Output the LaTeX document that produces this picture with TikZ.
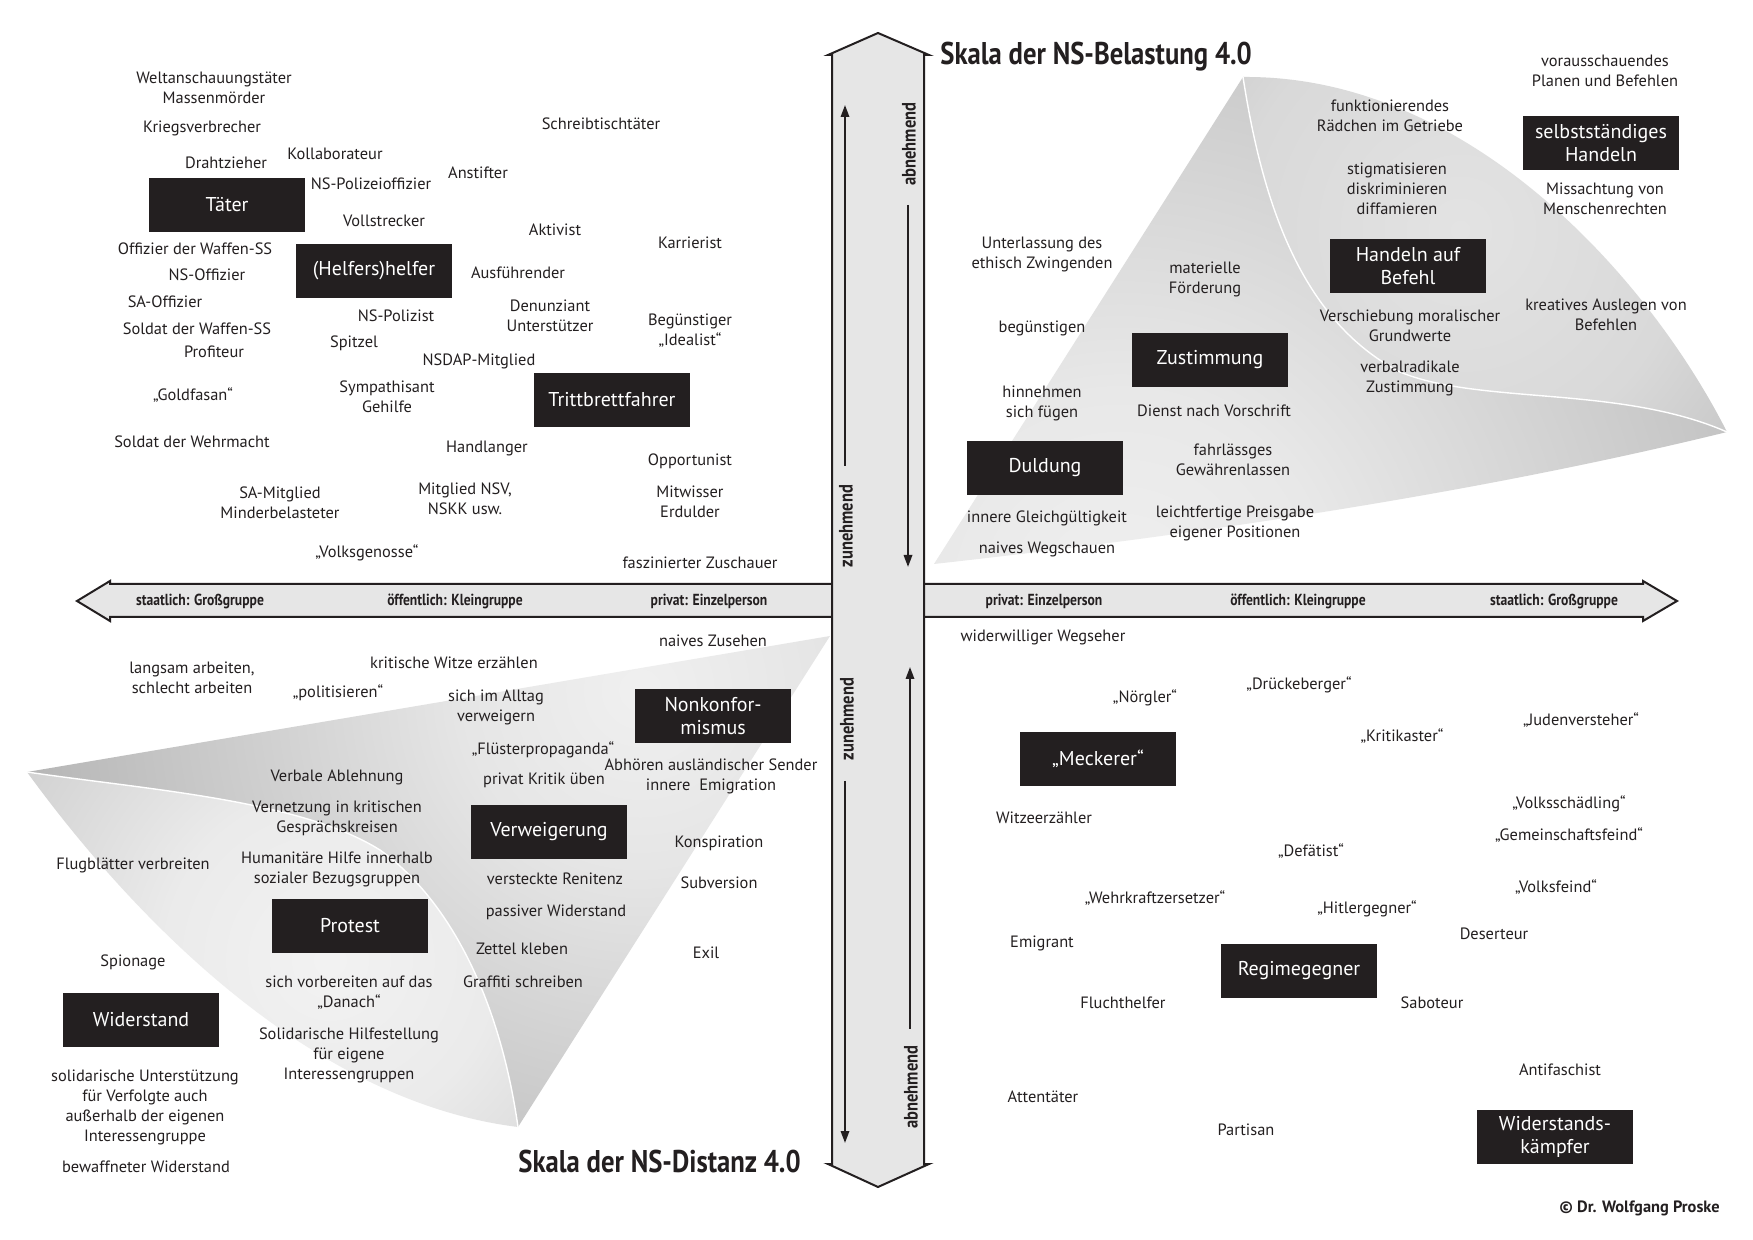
\documentclass[tikz,border=0pt]{standalone}
\usepackage{fontspec}
\setmainfont{PT Sans}
\newfontfamily\cnd[FakeStretch=0.85]{PT Sans}
\usetikzlibrary{arrows.meta}
\definecolor{ink}{HTML}{231F20}
\definecolor{barfill}{HTML}{E6E6E6}
\pgfdeclareradialshading{urfront}{\pgfpoint{0bp}{0bp}}{color(0bp)=(black!6); color(5bp)=(black!9); color(20bp)=(black!30); color(30bp)=(black!38); color(50bp)=(black!40)}
\pgfdeclareradialshading{urcurl}{\pgfpoint{0bp}{0bp}}{color(0bp)=(black!11); color(8bp)=(black!15); color(22bp)=(black!36); color(50bp)=(black!42)}
\pgfdeclareradialshading{llfront}{\pgfpoint{0bp}{0bp}}{color(0bp)=(black!6); color(5bp)=(black!10); color(18bp)=(black!30); color(28bp)=(black!42); color(50bp)=(black!45)}
\pgfdeclareradialshading{llcurl}{\pgfpoint{0bp}{0bp}}{color(0bp)=(black!5); color(6bp)=(black!8); color(20bp)=(black!28); color(28bp)=(black!36); color(50bp)=(black!38)}
\begin{document}
\begin{tikzpicture}[x=0.5pt,y=-0.5pt,
  lbl/.style={font=\fontsize{8.2}{10}\selectfont, text=ink, align=center, inner sep=0pt},
  cat/.style={fill=ink, text=white, font=\fontsize{10}{11.5}\selectfont, minimum width=78pt, minimum height=27pt, inner sep=0pt, align=center},
  axlbl/.style={font=\cnd\bfseries\fontsize{8}{9}\selectfont, text=ink, inner sep=0pt, anchor=base},
  vlbl/.style={font=\cnd\bfseries\fontsize{9.7}{11}\selectfont, text=ink, inner sep=0pt, rotate=90},
  ttl/.style={font=\cnd\bfseries\fontsize{15.7}{18}\selectfont, text=ink, inner sep=0pt, anchor=base west},
  inarrow/.style={draw=ink, line width=1pt, -{Triangle[length=6pt,width=4.2pt]}},
  barline/.style={draw=ink, line width=1pt, fill=barfill, line join=miter},
]
\useasboundingbox (0,0) rectangle (1753,1240);
\fill[white] (0,0) rectangle (1753,1240);

% ---------- upper right sail ----------
\coordinate (A) at (1243,77);
\coordinate (B) at (934,564);
\coordinate (C) at (1727,432);
\coordinate (Ai) at (1400,372);
\begin{scope}
  \clip (A) -- (B) .. controls (1150,540) and (1450,500) .. (C)
        .. controls (1620,385) and (1480,405) .. (Ai)
        .. controls (1300,320) and (1262,200) .. (A) -- cycle;
  \shade[shading=urfront] (1120,600) circle (1040);
\end{scope}
\begin{scope}
  \clip (A) .. controls (1470,75) and (1650,280) .. (C)
        .. controls (1620,385) and (1480,405) .. (Ai)
        .. controls (1300,320) and (1262,200) .. (A) -- cycle;
  \shade[shading=urcurl] (1460,230) circle (700);
\end{scope}
\draw[white, line width=0.7pt] (A) .. controls (1262,200) and (1300,320) .. (Ai)
      .. controls (1480,405) and (1620,385) .. (C);

% ---------- lower left sail ----------
\coordinate (P) at (830,636);
\coordinate (L) at (27,772);
\coordinate (Q) at (518,1127);
\coordinate (Li) at (380,850);
\begin{scope}
  \clip (L) -- (P) -- (Q) .. controls (500,1000) and (450,900) .. (Li)
        .. controls (300,800) and (150,790) .. (L) -- cycle;
  \shade[shading=llfront] (640,690) circle (900);
\end{scope}
\begin{scope}
  \clip (L) .. controls (120,900) and (300,1100) .. (Q)
        .. controls (500,1000) and (450,900) .. (Li)
        .. controls (300,800) and (150,790) .. (L) -- cycle;
  \shade[shading=llcurl] (330,960) circle (700);
\end{scope}
\draw[white, line width=0.7pt] (L) .. controls (150,790) and (300,800) .. (Li)
      .. controls (450,900) and (500,1000) .. (Q);

% ---------- axes ----------
\draw[barline] (110,584) -- (1643,584) -- (1643,581) -- (1677,601) -- (1643,621)
   -- (1643,617) -- (110,617) -- (110,621) -- (77,601) -- (110,581) -- cycle;
\draw[barline] (832,1164) -- (832,55) -- (828,55) -- (878,33) -- (929,55) -- (924,55)
   -- (924,1164) -- (929,1164) -- (878,1187) -- (828,1164) -- cycle;

\coordinate (u1s) at (845,466); \coordinate (u1e) at (845,105);
\coordinate (d1s) at (908,205); \coordinate (d1e) at (908,567);
\coordinate (d2s) at (845,781); \coordinate (d2e) at (845,1143);
\coordinate (u2s) at (910,1029); \coordinate (u2e) at (910,667);
\draw[inarrow] (u1s) -- (u1e);
\draw[inarrow] (d1s) -- (d1e);
\draw[inarrow] (d2s) -- (d2e);
\draw[inarrow] (u2s) -- (u2e);
\node[vlbl] (v1) at (846,526) {zunehmend};
\node[vlbl] (v2) at (909,144) {abnehmend};
\node[vlbl] (v3) at (847,719) {zunehmend};
\node[vlbl] (v4) at (911,1087) {abnehmend};

\node[axlbl] (h1) at (200,606) {staatlich: Großgruppe};
\node[axlbl] (h2) at (455,606) {öffentlich: Kleingruppe};
\node[axlbl] (h3) at (709,606) {privat: Einzelperson};
\node[axlbl] (h4) at (1044,606) {privat: Einzelperson};
\node[axlbl] (h5) at (1298,606) {öffentlich: Kleingruppe};
\node[axlbl] (h6) at (1554,606) {staatlich: Großgruppe};

\node[ttl] (title1) at (940,65) {Skala der NS-Belastung 4.0};
\node[ttl] (title2) at (518,1172) {Skala der NS-Distanz 4.0};
\node[font=\bfseries\fontsize{8.2}{9}\selectfont, text=ink, inner sep=0pt, anchor=base east] (copy) at (1720,1212) {© Dr. Wolfgang Proske};

% ---------- upper left ----------
\node[lbl] (t1) at (214,88) {Weltanschauungstäter\\Massenmörder};
\node[lbl] (t2) at (202,128) {Kriegsverbrecher};
\node[lbl] (t3) at (226,163) {Drahtzieher};
\node[lbl] (t4) at (335,154) {Kollaborateur};
\node[lbl] (t5) at (371,184) {NS-Polizeioffizier};
\node[lbl] (t6) at (384,221) {Vollstrecker};
\node[lbl] (t7) at (195,249) {Offizier der Waffen-SS};
\node[lbl] (t8) at (207,275) {NS-Offizier};
\node[lbl] (t9) at (165,302) {SA-Offizier};
\node[lbl] (t10) at (197,329) {Soldat der Waffen-SS};
\node[lbl] (t11) at (214,352) {Profiteur};
\node[lbl] (t12) at (193,395) {„Goldfasan“};
\node[lbl] (t13) at (192,442) {Soldat der Wehrmacht};
\node[lbl] (t14) at (280,503) {SA-Mitglied\\Minderbelasteter};
\node[lbl] (t15) at (601,124) {Schreibtischtäter};
\node[lbl] (t16) at (478,173) {Anstifter};
\node[lbl] (t17) at (555,230) {Aktivist};
\node[lbl] (t18) at (690,243) {Karrierist};
\node[lbl] (t19) at (518,273) {Ausführender};
\node[lbl] (t20) at (396,316) {NS-Polizist};
\node[lbl] (t21) at (550,316) {Denunziant\\Unterstützer};
\node[lbl] (t22) at (690,331) {Begünstiger\\„Idealist“};
\node[lbl] (t23) at (354,343) {Spitzel};
\node[lbl] (t24) at (479,361) {NSDAP-Mitglied};
\node[lbl] (t25) at (387,397) {Sympathisant\\Gehilfe};
\node[lbl] (t26) at (487,449) {Handlanger};
\node[lbl] (t27) at (690,461) {Opportunist};
\node[lbl] (t28) at (465,499) {Mitglied NSV,\\NSKK usw.};
\node[lbl] (t29) at (690,502) {Mitwisser\\Erdulder};
\node[lbl] (t30) at (367,553) {„Volksgenosse“};
\node[lbl] (t31) at (700,563) {faszinierter Zuschauer};
\node[cat] (bTaeter) at (227,205) {Täter};
\node[cat] (bHelfer) at (374,271) {(Helfers)helfer};
\node[cat] (bTritt) at (612,400) {Trittbrettfahrer};

% ---------- upper right ----------
\node[lbl] (r1) at (1042,255) {Unterlassung des\\ethisch Zwingenden};
\node[lbl] (r2) at (1205,279) {materielle\\Förderung};
\node[lbl] (r3) at (1605,71) {vorausschauendes\\Planen und Befehlen};
\node[lbl] (r4) at (1390,116) {funktionierendes\\Rädchen im Getriebe};
\node[lbl] (r5) at (1397,189) {stigmatisieren\\diskriminieren\\diffamieren};
\node[lbl] (r6) at (1605,199) {Missachtung von\\Menschenrechten};
\node[lbl] (r7) at (1410,326) {Verschiebung moralischer\\Grundwerte};
\node[lbl] (r8) at (1410,378) {verbalradikale\\Zustimmung};
\node[lbl] (r9) at (1606,315) {kreatives Auslegen von\\Befehlen};
\node[lbl] (r10) at (1042,328) {begünstigen};
\node[lbl] (r11) at (1042,403) {hinnehmen\\sich fügen};
\node[lbl] (r12) at (1214,411) {Dienst nach Vorschrift};
\node[lbl] (r13) at (1233,460) {fahrlässges\\Gewährenlassen};
\node[lbl] (r14) at (1047,518) {innere Gleichgültigkeit};
\node[lbl] (r15) at (1047,549) {naives Wegschauen};
\node[lbl] (r16) at (1235,523) {leichtfertige Preisgabe\\eigener Positionen};
\node[cat] (bSelbst) at (1601,143) {selbstständiges\\Handeln};
\node[cat] (bBefehl) at (1408,266) {Handeln auf\\Befehl};
\node[cat] (bZust) at (1210,360) {Zustimmung};
\node[cat] (bDuld) at (1045,468) {Duldung};

% ---------- lower left ----------
\node[lbl] (l1) at (713,641) {naives Zusehen};
\node[lbl] (l2) at (454,663) {kritische Witze erzählen};
\node[lbl] (l3) at (496,707) {sich im Alltag\\verweigern};
\node[lbl] (l4) at (543,750) {„Flüsterpropaganda“};
\node[lbl] (l5) at (544,780) {privat Kritik üben};
\node[lbl] (l6) at (711,776) {Abhören ausländischer Sender\\innere\ \ Emigration};
\node[lbl] (l7) at (719,843) {Konspiration};
\node[lbl] (l8) at (555,879) {versteckte Renitenz};
\node[lbl] (l9) at (719,883) {Subversion};
\node[lbl] (l10) at (556,912) {passiver Widerstand};
\node[lbl] (l11) at (522,949) {Zettel kleben};
\node[lbl] (l12) at (706,953) {Exil};
\node[lbl] (l13) at (523,982) {Graffiti schreiben};
\node[lbl] (l14) at (192,678) {langsam arbeiten,\\schlecht arbeiten};
\node[lbl] (l15) at (338,693) {„politisieren“};
\node[lbl] (l16) at (337,777) {Verbale Ablehnung};
\node[lbl] (l17) at (337,818) {Vernetzung in kritischen\\Gesprächskreisen};
\node[lbl] (l18) at (337,869) {Humanitäre Hilfe innerhalb\\sozialer Bezugsgruppen};
\node[lbl] (l19) at (133,865) {Flugblätter verbreiten};
\node[lbl] (l20) at (133,962) {Spionage};
\node[lbl] (l21) at (349,993) {sich vorbereiten auf das\\„Danach“};
\node[lbl] (l22) at (349,1055) {Solidarische Hilfestellung\\für eigene\\Interessengruppen};
\node[lbl] (l23) at (145,1107) {solidarische Unterstützung\\für Verfolgte auch\\außerhalb der eigenen\\Interessengruppe};
\node[lbl] (l24) at (146,1167) {bewaffneter Widerstand};
\node[cat] (bNonk) at (713,716) {Nonkonfor-\\mismus};
\node[cat] (bVerw) at (549,832) {Verweigerung};
\node[cat] (bProt) at (350,926) {Protest};
\node[cat] (bWid) at (141,1020) {Widerstand};

% ---------- lower right ----------
\node[lbl] (s1) at (1043,637) {widerwilliger Wegseher};
\node[lbl] (s2) at (1145,698) {„Nörgler“};
\node[lbl] (s3) at (1299,685) {„Drückeberger“};
\node[lbl] (s4) at (1044,818) {Witzeerzähler};
\node[lbl] (s5) at (1311,851) {„Defätist“};
\node[lbl] (s6) at (1155,898) {„Wehrkraftzersetzer“};
\node[lbl] (s7) at (1367,909) {„Hitlergegner“};
\node[lbl] (s8) at (1402,736) {„Kritikaster“};
\node[lbl] (s9) at (1581,720) {„Judenversteher“};
\node[lbl] (s10) at (1569,804) {„Volksschädling“};
\node[lbl] (s11) at (1569,835) {„Gemeinschaftsfeind“};
\node[lbl] (s12) at (1556,887) {„Volksfeind“};
\node[lbl] (s13) at (1494,934) {Deserteur};
\node[lbl] (s14) at (1432,1003) {Saboteur};
\node[lbl] (s15) at (1560,1070) {Antifaschist};
\node[lbl] (s16) at (1246,1130) {Partisan};
\node[lbl] (s17) at (1042,943) {Emigrant};
\node[lbl] (s18) at (1123,1003) {Fluchthelfer};
\node[lbl] (s19) at (1043,1097) {Attentäter};
\node[cat] (bMeck) at (1098,759) {„Meckerer“};
\node[cat] (bRegime) at (1299,971) {Regimegegner};
\node[cat] (bWK) at (1555,1137) {Widerstands-\\kämpfer};
\end{tikzpicture}
\end{document}
